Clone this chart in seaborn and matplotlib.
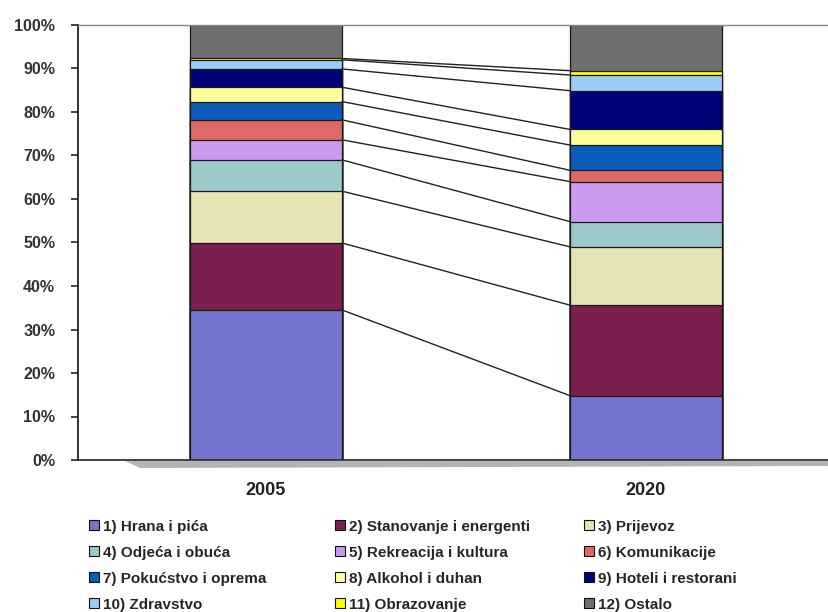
import matplotlib
matplotlib.use("Agg")
import matplotlib.pyplot as plt
import seaborn as sns
import pandas as pd
import numpy as np
from matplotlib.patches import Patch, Polygon

years = ["2005", "2020"]
categories = ["1) Hrana i pića", "2) Stanovanje i energenti", "3) Prijevoz",
              "4) Odjeća i obuća", "5) Rekreacija i kultura", "6) Komunikacije",
              "7) Pokućstvo i oprema", "8) Alkohol i duhan", "9) Hoteli i restorani",
              "10) Zdravstvo", "11) Obrazovanje", "12) Ostalo"]
values_2005 = [34.5, 15.4, 11.9, 7.2, 4.6, 4.6, 4.2, 3.3, 4.2, 2.1, 0.3, 7.7]
values_2020 = [14.8, 20.8, 13.4, 5.8, 9.2, 2.6, 5.8, 3.6, 8.9, 3.6, 1.0, 10.5]
colors = ["#7474cc", "#7a1f4e", "#e4e4b4", "#9cc8c8", "#cc99f0", "#dd6a66",
          "#0a5cb8", "#ffff99", "#000078", "#9cccf4", "#ffff00", "#6e6e6e"]
yticks = [0, 10, 20, 30, 40, 50, 60, 70, 80, 90, 100]

df = pd.DataFrame({
    "year": np.repeat(years, len(categories)),
    "category": categories * 2,
    "value": values_2005 + values_2020,
})
df["cum"] = df.groupby("year")["value"].cumsum()

sns.set_style("white")
plt.rcParams["font.family"] = ["Liberation Sans", "DejaVu Sans"]

W, H = 829, 612
fig = plt.figure(figsize=(W / 100, H / 100), dpi=100)
ax = fig.add_axes([78 / W, (H - 460) / H, 751 / W, 435 / H])

bw = 0.40
for cat, col in reversed(list(zip(categories, colors))):
    sub = df[df["category"] == cat]
    sns.barplot(data=sub, x="year", y="cum", color=col, width=bw,
                edgecolor="#1a1a1a", linewidth=0.9, saturation=1, ax=ax,
                order=years)

# series lines
cum05 = df[df["year"] == "2005"]["cum"].to_numpy()
cum20 = df[df["year"] == "2020"]["cum"].to_numpy()
for a, b in zip(cum05[:-1], cum20[:-1]):
    ax.plot([0 + bw / 2, 1 - bw / 2], [a, b], color="#222222", lw=1.0, zorder=1)

ax.set_xlim(-0.4947, 1.482)
ax.set_ylim(0, 100)
ax.set_yticks(yticks)
ax.set_yticklabels([f"{t}%" for t in yticks], fontsize=11.5, fontweight="bold",
                   color="#333333")
ax.set_xticks([0, 1])
ax.set_xticklabels(years, fontsize=13, fontweight="bold", color="#222222")
ax.set_xlabel("")
ax.set_ylabel("")
ax.tick_params(axis="y", direction="out", length=5, width=1.2, pad=11.5,
               left=True, color="#222222")
ax.tick_params(axis="x", length=0, pad=16)

ax.spines["right"].set_visible(False)
ax.spines["top"].set_color("#888888")
ax.spines["top"].set_linewidth(1.0)
ax.spines["left"].set_color("#222222")
ax.spines["left"].set_linewidth(1.3)
ax.spines["bottom"].set_color("#333333")
ax.spines["bottom"].set_linewidth(1.3)

# grey floor shadow under the category axis
floor = Polygon([[125 / W, (H - 461) / H], [829 / W, (H - 461) / H],
                 [829 / W, (H - 466) / H], [140 / W, (H - 468) / H]],
                closed=True, transform=fig.transFigure, facecolor="#b4b4b4",
                edgecolor="none", zorder=0)
fig.patches.append(floor)

# legend: three columns placed at fixed positions, row-wise order
handles = [Patch(facecolor=c, edgecolor="#111111", linewidth=0.8) for c in colors]
col_x = [75, 321, 570]
for j in range(3):
    idx = [j, j + 3, j + 6, j + 9]
    fig.legend([handles[i] for i in idx], [categories[i] for i in idx],
               ncol=1, loc="upper left", bbox_to_anchor=(col_x[j] / W, 1 - 506 / H),
               frameon=False, handlelength=0.65, handleheight=0.65,
               handletextpad=0.3, labelspacing=0.78,
               prop={"weight": "bold", "size": 11})

fig.savefig("out.png", dpi=100, facecolor="white")
